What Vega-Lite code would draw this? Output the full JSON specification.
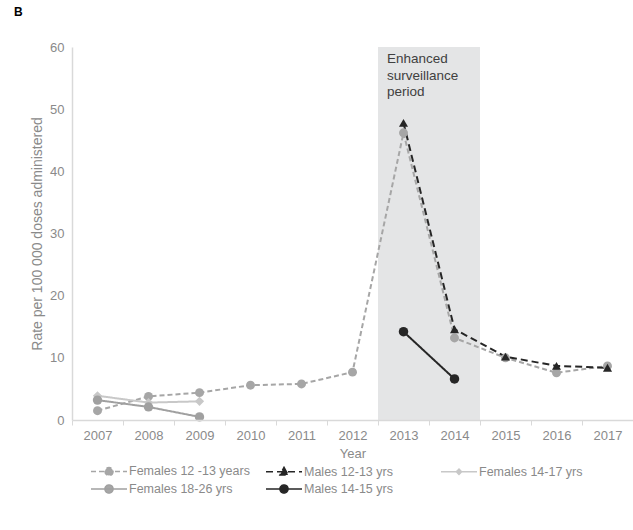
{
  "$schema": "https://vega.github.io/schema/vega-lite/v6.json",
  "width": 561,
  "height": 373,
  "autosize": {"type": "none"},
  "padding": {"left": 72, "top": 47, "right": 0, "bottom": 110},
  "background": "white",
  "title": {"text": "B", "anchor": "start", "frame": "group", "dx": -58, "offset": 22, "fontSize": 12, "fontWeight": "bold", "color": "#000000", "font": "Liberation Sans"},
  "config": {
    "view": {"stroke": null},
    "font": "Liberation Sans",
    "axis": {"labelFont": "Liberation Sans", "titleFont": "Liberation Sans", "labelColor": "#8a8a8a", "titleColor": "#8a8a8a", "labelFontSize": 13, "titleFontSize": 13, "titleFontWeight": "normal", "domainColor": "#d9d9d9", "domainWidth": 1.5, "tickColor": "#d9d9d9", "grid": false},
    "legend": {"labelFont": "Liberation Sans"}
  },
  "datasets": {
    "series": [
      {"series": "Females 12 -13 years", "year": "2007", "rate": 1.5},
      {"series": "Females 12 -13 years", "year": "2008", "rate": 3.8},
      {"series": "Females 12 -13 years", "year": "2009", "rate": 4.4},
      {"series": "Females 12 -13 years", "year": "2010", "rate": 5.6},
      {"series": "Females 12 -13 years", "year": "2011", "rate": 5.8},
      {"series": "Females 12 -13 years", "year": "2012", "rate": 7.7},
      {"series": "Females 12 -13 years", "year": "2013", "rate": 46.2},
      {"series": "Females 12 -13 years", "year": "2014", "rate": 13.2},
      {"series": "Females 12 -13 years", "year": "2015", "rate": 10.0},
      {"series": "Females 12 -13 years", "year": "2016", "rate": 7.6},
      {"series": "Females 12 -13 years", "year": "2017", "rate": 8.7},
      {"series": "Females 14-17 yrs", "year": "2007", "rate": 3.9},
      {"series": "Females 14-17 yrs", "year": "2008", "rate": 2.8},
      {"series": "Females 14-17 yrs", "year": "2009", "rate": 3.0},
      {"series": "Females 18-26 yrs", "year": "2007", "rate": 3.2},
      {"series": "Females 18-26 yrs", "year": "2008", "rate": 2.1},
      {"series": "Females 18-26 yrs", "year": "2009", "rate": 0.5},
      {"series": "Males 14-15 yrs", "year": "2013", "rate": 14.2},
      {"series": "Males 14-15 yrs", "year": "2014", "rate": 6.6},
      {"series": "Males 12-13 yrs", "year": "2013", "rate": 47.8},
      {"series": "Males 12-13 yrs", "year": "2014", "rate": 14.6},
      {"series": "Males 12-13 yrs", "year": "2015", "rate": 10.2},
      {"series": "Males 12-13 yrs", "year": "2016", "rate": 8.7},
      {"series": "Males 12-13 yrs", "year": "2017", "rate": 8.4}
    ],
    "band": [
      {"year": "2013", "top": 60},
      {"year": "2014", "top": 60}
    ],
    "note": [
      {"year": "2013", "top": 60, "label": ["Enhanced", "surveillance", "period"]}
    ]
  },
  "resolve": {"scale": {"color": "independent", "shape": "independent", "size": "independent", "strokeDash": "independent"}},
  "layer": [
    {
      "data": {"name": "band"},
      "mark": {"type": "rect", "color": "#e4e5e6", "strokeWidth": 0},
      "encoding": {
        "x": {"field": "year", "type": "ordinal", "scale": {"type": "band", "paddingInner": 0, "paddingOuter": 0, "domain": ["2007","2008","2009","2010","2011","2012","2013","2014","2015","2016","2017"]},
          "axis": {"title": "Year", "titleFontSize": 13, "labelAngle": 0, "tickBand": "extent", "tickSize": 5, "labelPadding": 4, "titlePadding": 5}},
        "y": {"field": "top", "type": "quantitative", "scale": {"domain": [0, 60]},
          "axis": {"title": "Rate per 100 000 doses administered", "titleFontSize": 14, "values": [0,10,20,30,40,50,60], "ticks": false, "labelPadding": 8, "titlePadding": 5}},
        "y2": {"datum": 0}
      }
    },
    {
      "data": {"name": "note"},
      "mark": {"type": "text", "align": "left", "baseline": "top", "dx": 9, "dy": 5, "fontSize": 13.5, "lineHeight": 16.5, "color": "#404040", "font": "Liberation Sans"},
      "encoding": {
        "x": {"field": "year", "type": "ordinal", "bandPosition": 0},
        "y": {"field": "top", "type": "quantitative"},
        "text": {"field": "label"}
      }
    },
    {
      "data": {"name": "series"},
      "mark": {"type": "line", "strokeWidth": 2},
      "encoding": {
        "x": {"field": "year", "type": "ordinal", "bandPosition": 0.5},
        "y": {"field": "rate", "type": "quantitative"},
        "detail": {"field": "series"},
        "color": {"field": "series", "type": "nominal",
          "scale": {"domain": ["Females 12 -13 years", "Males 12-13 yrs", "Females 14-17 yrs", "Females 18-26 yrs", "Males 14-15 yrs"], "range": ["#a6a6a6", "#262626", "#c8c8c8", "#a0a0a0", "#262626"]},
          "legend": {
            "title": null, "orient": "none", "legendX": 18, "legendY": 414, "direction": "horizontal", "columns": 3, "gridAlign": "all",
            "symbolType": "M-2,0H2M0.5,0A0.5,0.5,0,1,1,-0.5,0A0.5,0.5,0,1,1,0.5,0Z",
            "symbolSize": 324, "symbolOffset": 9, "labelOffset": 10, "symbolStrokeWidth": 1.5, "columnPadding": 13, "rowPadding": 0,
            "labelColor": "#8a8a8a", "labelFontSize": 12.5, "labelLimit": 300,
            "encode": {"symbols": {"update": {
              "shape": {"signal": "datum.value == 'Males 12-13 yrs' ? 'M-2,0H2M0,-0.5L0.45,0.35L-0.45,0.35Z' : datum.value == 'Females 14-17 yrs' ? 'M-2,0H2M0,-0.3L0.3,0L0,0.3L-0.3,0Z' : 'M-2,0H2M0.45,0A0.45,0.45,0,1,1,-0.45,0A0.45,0.45,0,1,1,0.45,0Z'"},
              "strokeDash": {"signal": "datum.value == 'Females 12 -13 years' ? [4,3] : datum.value == 'Males 12-13 yrs' ? [6,6] : [1,0]"},
              "fill": {"signal": "datum.value == 'Males 12-13 yrs' || datum.value == 'Males 14-15 yrs' ? '#262626' : datum.value == 'Females 14-17 yrs' ? '#c8c8c8' : '#a6a6a6'"},
              "fillOpacity": {"value": 1}
            }}}
          }},
        "strokeDash": {"field": "series", "type": "nominal", "legend": null,
          "scale": {"domain": ["Females 12 -13 years", "Males 12-13 yrs", "Females 14-17 yrs", "Females 18-26 yrs", "Males 14-15 yrs"], "range": [[5,3], [7,4], [1,0], [1,0], [1,0]]}},
        "order": {"field": "year"}
      }
    },
    {
      "data": {"name": "series"},
      "mark": {"type": "point", "filled": true, "opacity": 1},
      "encoding": {
        "x": {"field": "year", "type": "ordinal", "bandPosition": 0.5},
        "y": {"field": "rate", "type": "quantitative"},
        "color": {"field": "series", "type": "nominal", "legend": null,
          "scale": {"domain": ["Females 12 -13 years", "Males 12-13 yrs", "Females 14-17 yrs", "Females 18-26 yrs", "Males 14-15 yrs"], "range": ["#a6a6a6", "#262626", "#c8c8c8", "#a0a0a0", "#262626"]}},
        "shape": {"field": "series", "type": "nominal", "legend": null,
          "scale": {"domain": ["Females 12 -13 years", "Males 12-13 yrs", "Females 14-17 yrs", "Females 18-26 yrs", "Males 14-15 yrs"], "range": ["circle", "triangle-up", "diamond", "circle", "circle"]}},
        "size": {"field": "series", "type": "nominal", "legend": null,
          "scale": {"domain": ["Females 12 -13 years", "Males 12-13 yrs", "Females 14-17 yrs", "Females 18-26 yrs", "Males 14-15 yrs"], "range": [80, 90, 45, 80, 75]}}
      }
    }
  ]
}
